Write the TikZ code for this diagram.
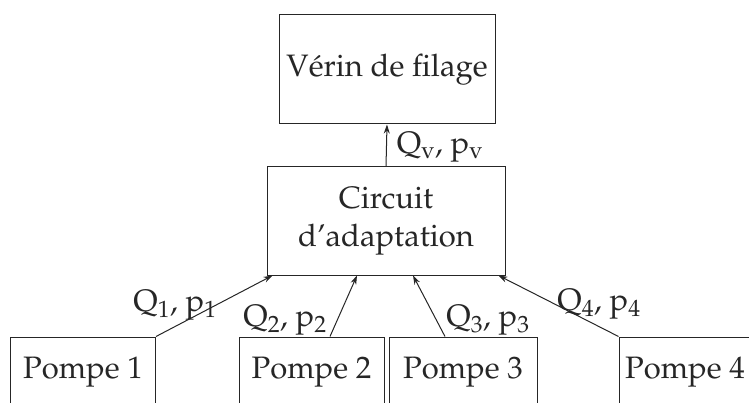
\documentclass[tikz,border=0pt]{standalone}
\usepackage[T1]{fontenc}
\usepackage{mathpazo}
\usetikzlibrary{arrows.meta}
\definecolor{ink}{gray}{0.15}
\tikzset{
  box/.style={draw=ink, line width=1pt, rectangle, inner sep=0pt, text=ink, align=center},
  pump/.style={box, minimum width=145pt, minimum height=70pt},
  flow/.style={draw=ink, line width=1pt, -{Stealth[length=9pt,width=6pt]}},
  lab/.style={text=ink, inner sep=0pt}
}
\begin{document}
\begin{tikzpicture}[x=1pt,y=-1pt,font=\fontsize{31}{38}\selectfont]
\useasboundingbox (0,0) rectangle (749,403);
\clip (0,0) rectangle (749,403);
\node[box, minimum width=216pt, minimum height=109pt] (verin) at (387,69.5) {Vérin de filage};
\node[box, minimum width=238pt, minimum height=108pt] (circ) at (386,221) {Circuit\\d'adaptation};
\node[pump] (p1) at (83,372) {Pompe 1};
\node[pump] (p2) at (311.5,372) {Pompe 2};
\node[pump, minimum width=148pt] (p3) at (463,372) {Pompe 3};
\node[pump, minimum width=132pt] (p4) at (685,372) {Pompe 4};
\draw[flow] (circ.north) -- (verin.south);
\draw[flow] (p1.north east) -- ([xshift=6pt]circ.south west);
\draw[flow] ([xshift=18.5pt]p2.north) -- ([xshift=-29pt]circ.south);
\draw[flow] ([xshift=-18pt]p3.north) -- ([xshift=27pt]circ.south);
\draw[flow] (p4.north west) -- ([xshift=-7pt]circ.south east);
\node[lab] (lv) at (440,147) {Q\textsubscript{v}, p\textsubscript{v}};
\node[lab] (l1) at (175,305) {Q\textsubscript{1}, p\textsubscript{1}};
\node[lab] (l2) at (285,320) {Q\textsubscript{2}, p\textsubscript{2}};
\node[lab] (l3) at (488,320) {Q\textsubscript{3}, p\textsubscript{3}};
\node[lab] (l4) at (599,304) {Q\textsubscript{4}, p\textsubscript{4}};
\end{tikzpicture}
\end{document}
